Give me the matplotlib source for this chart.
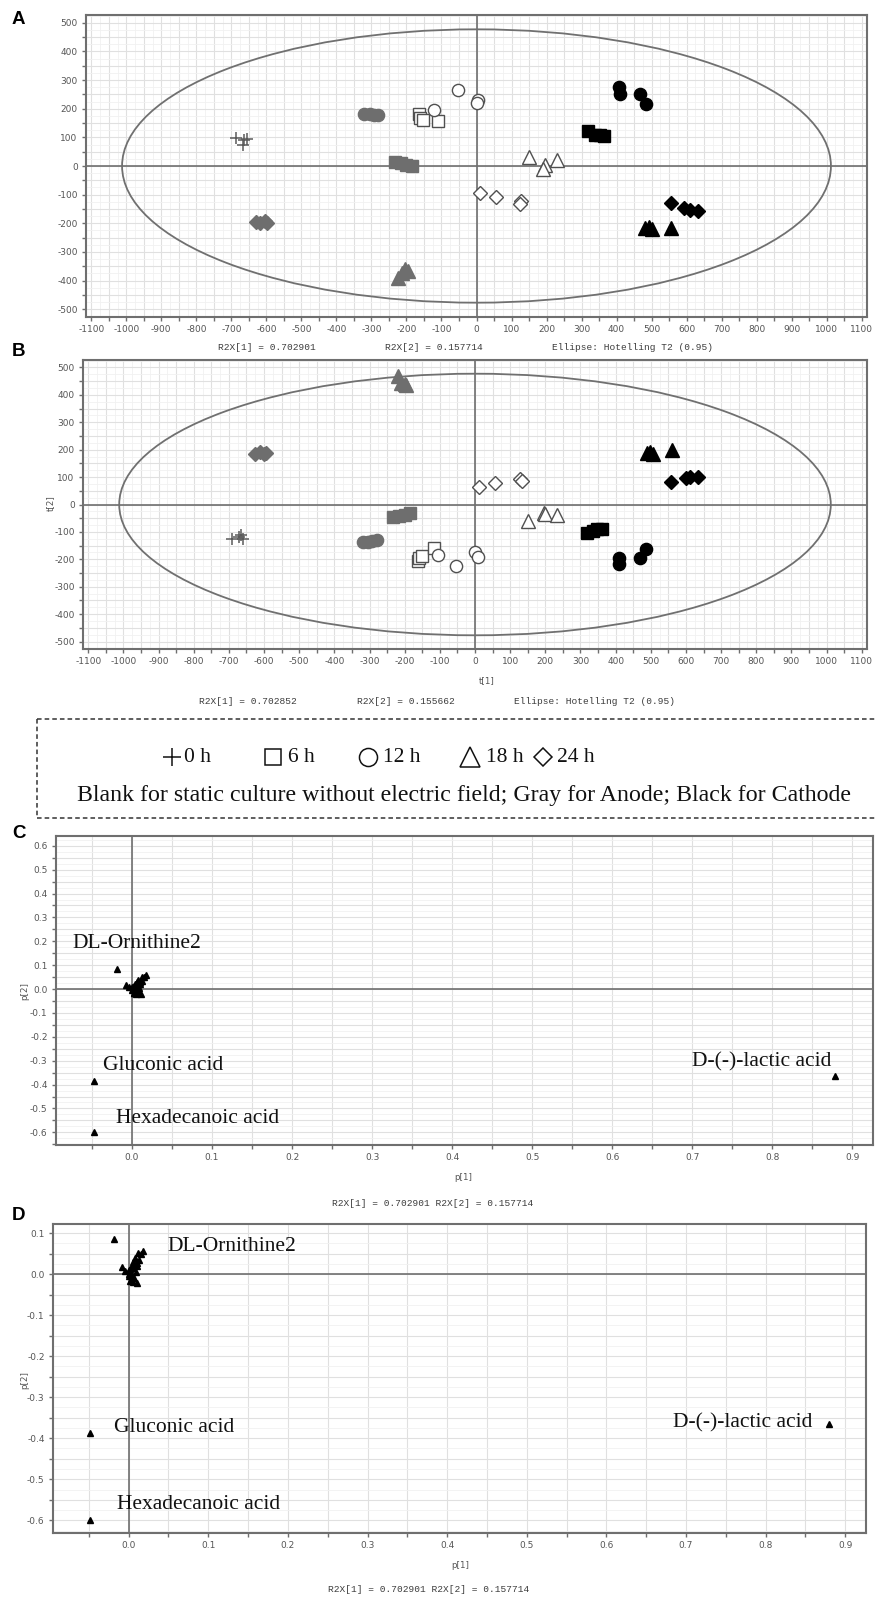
import matplotlib
matplotlib.use("Agg")
import matplotlib.pyplot as plt
from matplotlib.patches import Ellipse
from matplotlib.ticker import MultipleLocator, FuncFormatter

W, H = 875, 1597

# ---- score plot A: (t[1], t[2]) for each time point / treatment ----
A_0H_ANODE = ([-688, -665, -655, -667], [98, 90, 93, 75])
A_6H_STATIC = ([-165, -160, -152, -110], [182, 168, 160, 158])
A_6H_ANODE = ([-232, -215, -200, -185], [15, 10, 5, 0])
A_6H_CATHODE = ([318, 338, 352, 365], [122, 108, 108, 105])
A_12H_STATIC = ([-52, -122, 5, 0], [265, 196, 232, 220])
A_12H_ANODE = ([-320, -305, -292, -280], [180, 180, 178, 178])
A_12H_CATHODE = ([408, 410, 468, 485], [275, 250, 252, 215])
A_18H_STATIC = ([150, 195, 190, 230], [30, 5, -12, 20])
A_18H_ANODE = ([-225, -212, -205, -195], [-390, -375, -360, -368])
A_18H_CATHODE = ([480, 492, 502, 555], [-215, -212, -220, -215])
A_24H_STATIC = ([10, 55, 128, 124], [-95, -108, -123, -133])
A_24H_ANODE = ([-630, -617, -605, -598], [-195, -200, -193, -198])
A_24H_CATHODE = ([555, 592, 610, 632], [-130, -145, -152, -158])

# ---- score plot B ----
B_0H_ANODE = ([-690, -672, -665, -660], [-125, -120, -112, -127])
B_6H_STATIC = ([-162, -158, -150, -118], [-205, -195, -188, -158])
B_6H_ANODE = ([-232, -215, -200, -185], [-45, -42, -38, -30])
B_6H_CATHODE = ([318, 335, 348, 360], [-105, -95, -90, -90])
B_12H_STATIC = ([-105, -55, 0, 8], [-185, -225, -175, -190])
B_12H_ANODE = ([-318, -305, -292, -280], [-135, -135, -132, -130])
B_12H_CATHODE = ([410, 410, 468, 486], [-195, -218, -196, -162])
B_18H_STATIC = ([152, 195, 200, 232], [-60, -32, -36, -40])
B_18H_ANODE = ([-220, -210, -200, -195], [470, 442, 440, 435])
B_18H_CATHODE = ([488, 498, 505, 560], [188, 190, 185, 200])
B_24H_STATIC = ([12, 57, 128, 133], [65, 77, 92, 85])
B_24H_ANODE = ([-625, -612, -600, -595], [185, 190, 185, 188])
B_24H_CATHODE = ([558, 600, 612, 635], [82, 97, 102, 100])

A_R2X = ("0.702901", "0.157714")
B_R2X = ("0.702852", "0.155662")

# ---- loadings (p[1], p[2]), same for C and D ----
named_metabolites = ["DL-Ornithine2", "Gluconic acid", "Hexadecanoic acid", "D-(-)-lactic acid"]
named_p1 = [-0.019, -0.048, -0.048, 0.879]
named_p2 = [0.086, -0.387, -0.600, -0.366]
cluster_p1 = [-0.008, -0.004, 0.000, 0.002, 0.004, 0.006, 0.008, 0.010, 0.012, 0.015,
              0.018, 0.003, 0.005, 0.007, 0.009, 0.001, 0.006, 0.011, 0.004, 0.008,
              0.002, 0.010, 0.013, 0.000]
cluster_p2 = [0.018, 0.008, -0.005, 0.012, 0.020, 0.030, 0.040, 0.028, 0.052, 0.050,
              0.057, -0.015, -0.020, -0.010, 0.005, 0.000, 0.015, -0.022, -0.002, 0.022,
              -0.018, 0.020, 0.035, 0.010]

# label anchor points (data units) for C and D
C_LABEL_XY = [(-0.074, 0.19), (-0.036, -0.319), (-0.020, -0.541), (0.700, -0.306)]
D_LABEL_XY = [(0.049, 0.066), (-0.019, -0.374), (-0.015, -0.562), (0.684, -0.363)]

TIMES = ["0 h", "6 h", "12 h", "18 h", "24 h"]

MARKER = {"0h": "+", "6h": "s", "12h": "o", "18h": "^", "24h": "D"}
MSIZE = {"0h": 8, "6h": 8, "12h": 8.8, "18h": 10, "24h": 7}
FACE = {"static": "white", "anode": "#6e6e6e", "cathode": "black"}
EDGE = {"static": "#505050", "anode": "#6e6e6e", "cathode": "black"}

GRID = "#e0e0e0"
GRID_MINOR = "#f1f1f1"
FRAME = "#6f6f6f"
TICKC = "#555555"


def rect(l, t, r, b):
    return [l / W, 1 - b / H, (r - l) / W, (b - t) / H]


def ftext(x, y, s, **kw):
    fig.text(x / W, 1 - y / H, s, **kw)


def style_frame(ax):
    for sp in ax.spines.values():
        sp.set_color(FRAME)
        sp.set_linewidth(1.5)
    ax.tick_params(which="major", length=3, width=1, color=FRAME, labelsize=6.5,
                   labelcolor=TICKC, pad=3)
    ax.tick_params(which="minor", length=0)
    ax.grid(which="major", color=GRID, lw=0.8, zorder=0)
    ax.grid(which="minor", color=GRID_MINOR, lw=0.6, zorder=0)
    ax.set_axisbelow(True)


def score_plot(ax, groups):
    ax.set_xlim(-1115, 1115)
    ax.set_ylim(-527, 527)
    ax.xaxis.set_major_locator(MultipleLocator(50))
    ax.yaxis.set_major_locator(MultipleLocator(50))
    ax.xaxis.set_minor_locator(MultipleLocator(25))
    ax.yaxis.set_minor_locator(MultipleLocator(25))
    fmt = FuncFormatter(lambda v, p: "%d" % round(v) if round(v) % 100 == 0 else "")
    ax.xaxis.set_major_formatter(fmt)
    ax.yaxis.set_major_formatter(fmt)
    style_frame(ax)
    ax.axhline(0, color=FRAME, lw=1.2, zorder=1)
    ax.axvline(0, color=FRAME, lw=1.2, zorder=1)
    ax.add_patch(Ellipse((0, 0), 2 * 1012, 2 * 477, fill=False, ec="#707070",
                         lw=1.3, zorder=2))
    for time, treat, (xs, ys) in groups:
        m = MARKER[time]
        if m == "+":
            ax.plot(xs, ys, ls="none", marker="+", ms=MSIZE[time], mew=1.1,
                    color="#5a5a5a", zorder=3)
        else:
            ax.plot(xs, ys, ls="none", marker=m, ms=MSIZE[time], mfc=FACE[treat],
                    mec=EDGE[treat], mew=1.0, zorder=3)


def loading_plot(ax, ylim, label_xy):
    ax.set_xlim(-0.095, 0.926)
    ax.set_ylim(*ylim)
    ax.xaxis.set_major_locator(MultipleLocator(0.05))
    ax.yaxis.set_major_locator(MultipleLocator(0.05))
    ax.yaxis.set_minor_locator(MultipleLocator(0.025))
    fmt = FuncFormatter(lambda v, p: ("%.1f" % abs(v) if abs(v) < 1e-9 else "%.1f" % v)
                        if abs(v * 10 - round(v * 10)) < 1e-6 else "")
    ax.xaxis.set_major_formatter(fmt)
    ax.yaxis.set_major_formatter(fmt)
    style_frame(ax)
    ax.axhline(0, color=FRAME, lw=1.2, zorder=1)
    ax.axvline(0, color=FRAME, lw=1.2, zorder=1)
    ax.plot(cluster_p1, cluster_p2, ls="none", marker="^", ms=5, color="black", zorder=3)
    ax.plot(named_p1, named_p2, ls="none", marker="^", ms=5, color="black", zorder=3)
    for name, (lx, ly) in zip(named_metabolites, label_xy):
        ax.text(lx, ly, name, ha="left", va="center", fontsize=15.5,
                family="Liberation Serif", color="#111111", zorder=4)


fig = plt.figure(figsize=(W / 100, H / 100), dpi=100)
fig.patch.set_facecolor("white")

mono = dict(family="Liberation Mono", fontsize=6.8, color="#3c3c3c", va="center")
small = dict(family="DejaVu Sans", fontsize=6.3, color=TICKC, va="center", ha="center")
letter = dict(family="Liberation Sans", fontsize=13.5, weight="bold", va="center", ha="left")

# A
axA = fig.add_axes(rect(86, 15, 867, 317))
score_plot(axA, [
    ("0h", "anode", A_0H_ANODE),
    ("6h", "static", A_6H_STATIC), ("6h", "anode", A_6H_ANODE), ("6h", "cathode", A_6H_CATHODE),
    ("12h", "static", A_12H_STATIC), ("12h", "anode", A_12H_ANODE), ("12h", "cathode", A_12H_CATHODE),
    ("18h", "static", A_18H_STATIC), ("18h", "anode", A_18H_ANODE), ("18h", "cathode", A_18H_CATHODE),
    ("24h", "static", A_24H_STATIC), ("24h", "anode", A_24H_ANODE), ("24h", "cathode", A_24H_CATHODE),
])
ftext(12, 20, "A", **letter)
ftext(218, 347, "R2X[1] = " + A_R2X[0], ha="left", **mono)
ftext(385, 347, "R2X[2] = " + A_R2X[1], ha="left", **mono)
ftext(552, 347, "Ellipse: Hotelling T2 (0.95)", ha="left", **mono)

# B
axB = fig.add_axes(rect(83, 360, 867, 649))
score_plot(axB, [
    ("0h", "anode", B_0H_ANODE),
    ("6h", "static", B_6H_STATIC), ("6h", "anode", B_6H_ANODE), ("6h", "cathode", B_6H_CATHODE),
    ("12h", "static", B_12H_STATIC), ("12h", "anode", B_12H_ANODE), ("12h", "cathode", B_12H_CATHODE),
    ("18h", "static", B_18H_STATIC), ("18h", "anode", B_18H_ANODE), ("18h", "cathode", B_18H_CATHODE),
    ("24h", "static", B_24H_STATIC), ("24h", "anode", B_24H_ANODE), ("24h", "cathode", B_24H_CATHODE),
])
ftext(12, 352, "B", **letter)
ftext(50, 503, "t[2]", rotation=90, **small)
ftext(487, 681, "t[1]", **small)
ftext(199, 702, "R2X[1] = " + B_R2X[0], ha="left", **mono)
ftext(357, 702, "R2X[2] = " + B_R2X[1], ha="left", **mono)
ftext(514, 702, "Ellipse: Hotelling T2 (0.95)", ha="left", **mono)

# legend box
lax = fig.add_axes(rect(0, 712, W, 825))
lax.set_xlim(0, W)
lax.set_ylim(825, 712)
lax.axis("off")
dash = dict(color="#333333", lw=1.1, ls=(0, (3, 2)))
lax.plot([37, W], [719, 719], **dash)
lax.plot([37, W], [818, 818], **dash)
lax.plot([37, 37], [719, 818], **dash)
sym_x = [172, 273, 368, 470, 543]
txt_x = [184, 288, 383, 486, 557]
for m, sx, tx, lab in zip(["+", "s", "o", "^", "D"], sym_x, txt_x, TIMES):
    ms = {"+": 13, "s": 12, "o": 13, "^": 15, "D": 9.5}[m]
    lax.plot([sx], [757], ls="none", marker=m, ms=ms, mfc="none", mec="#111111",
             mew=1.1, color="#111111")
    lax.text(tx, 757, lab, ha="left", va="center", fontsize=15.5,
             family="Liberation Serif", color="#111111")
lax.text(464, 796, "Blank for static culture without electric field; Gray for Anode; Black for Cathode",
         ha="center", va="center", fontsize=17.2, family="Liberation Serif", color="#111111")

# C
axC = fig.add_axes(rect(56, 836, 873, 1145))
loading_plot(axC, (-0.653, 0.641), C_LABEL_XY)
ftext(12, 833, "C", **letter)
ftext(25, 991, "p[2]", rotation=90, **small)
ftext(463, 1177, "p[1]", **small)
ftext(332, 1203, "R2X[1] = %s R2X[2] = %s" % A_R2X, ha="left", **mono)

# D
axD = fig.add_axes(rect(53, 1224, 866, 1533))
loading_plot(axD, (-0.631, 0.122), D_LABEL_XY)
ftext(12, 1215, "D", **letter)
ftext(25, 1380, "p[2]", rotation=90, **small)
ftext(460, 1565, "p[1]", **small)
ftext(328, 1590, "R2X[1] = %s R2X[2] = %s" % A_R2X, ha="left", **mono)

fig.savefig("out.png", dpi=100, facecolor="white")
